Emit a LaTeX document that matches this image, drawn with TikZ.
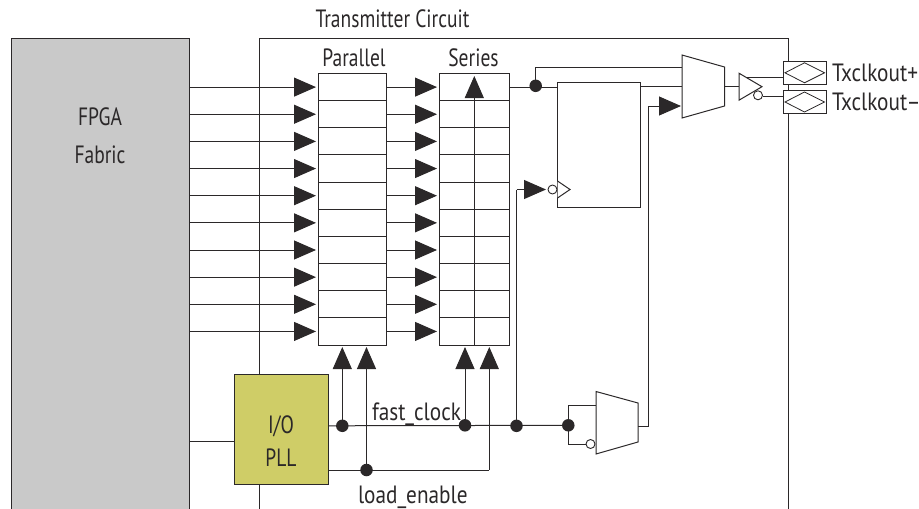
\documentclass[tikz,border=0pt]{standalone}
\usepackage{fontspec}
\setmainfont[FakeStretch=0.78]{PT Sans}
\newfontfamily\widefont[FakeStretch=0.85]{PT Sans}
\usetikzlibrary{arrows.meta,calc}
\definecolor{ink}{HTML}{2B2829}
\definecolor{fabric}{HTML}{C9C9C9}
\definecolor{pll}{HTML}{CFCD67}
\tikzset{
  wire/.style={draw=ink,line width=1pt,line join=miter},
  arrowwire/.style={wire,-{Triangle[length=22pt,width=19pt,color=ink]}},
  cell/.style={draw=ink,line width=1pt,fill=white,minimum height=27.15pt,inner sep=0pt,outer sep=0pt},
  dot/.style={circle,fill=ink,minimum size=12.5pt,inner sep=0pt,outer sep=0pt},
  bubble/.style={circle,draw=ink,line width=.9pt,fill=white,minimum size=9pt,inner sep=0pt,outer sep=0pt},
  lbl/.style={font=\fontsize{25}{28}\selectfont,text=ink,inner sep=0pt,outer sep=0pt,anchor=base},
  widelbl/.style={font=\widefont\fontsize{25}{28}\selectfont,text=ink,inner sep=0pt,outer sep=0pt,anchor=base west},
  shapeline/.style={draw=ink,line width=1pt,fill=white,line join=miter},
}
\begin{document}
\begin{tikzpicture}[x=1pt,y=-1pt]
\useasboundingbox (0,0) rectangle (919,509);
% fabric and circuit outlines
\fill[fabric] (11,38) rectangle (189,509);
\draw[wire] (11,509) -- (11,38) -- (189,38) -- (189,509);
\draw[wire] (259,509) -- (259,38) -- (788.5,38) -- (788.5,509);
\node[lbl] (title) at (392.5,27) {Transmitter Circuit};
\node[lbl] (fpga) at (100,125) {FPGA};
\node[lbl] (fab) at (100,163) {Fabric};
\node[lbl] (partxt) at (354,66) {Parallel};
\node[lbl] (sertxt) at (473.5,66) {Series};
% register rows
\foreach \i in {1,...,10}{
  \pgfmathsetmacro{\yy}{87.1+(\i-1)*27.15}
  \node[cell,minimum width=68pt] (p\i) at (352,\yy) {};
  \node[cell,minimum width=70pt] (s\i) at (474.3,\yy) {};
  \coordinate (fab\i) at (189,\yy);
  \coordinate (ptip\i) at (316,\yy);
  \coordinate (stip\i) at (437,\yy);
  \draw[arrowwire] (fab\i) -- (ptip\i);
  \draw[arrowwire] (p\i.east) -- (stip\i);
}
% series divider and shift arrow
\draw[wire] (s10.south) -- (s2.north);
\coordinate (shifttip) at (474.3,76);
\draw[arrowwire] (s2.north) -- (shifttip);
% flip-flop
\node[draw=ink,line width=1pt,fill=white,minimum width=83.5pt,minimum height=125.7pt,inner sep=0pt,outer sep=0pt] (ff) at (599.2,144.9) {};
\draw[shapeline] (557.5,181) -- (570,189.5) -- (557.5,198);
\coordinate (ffclk) at (557.5,189.5);
\node[bubble] (ffb) at (552.5,189.5) {};
% output mux
\draw[shapeline] (682,55) -- (724.5,67) -- (724.5,106) -- (682,118) -- cycle;
\coordinate (muxa) at (682,67);
\coordinate (muxb) at (682,86.7);
\coordinate (muxc) at (681,106);
\coordinate (muxo) at (724.5,86.7);
% serial output
\node[dot] (d1) at (535.7,85.8) {};
\draw[wire] (s1.east) -- (ff.west |- s1.east);
\draw[wire] (d1.center) -- (d1.center |- muxa) -- (muxa);
\draw[wire] (ff.east |- muxb) -- (muxb);
% output buffer
\coordinate (bufin) at (739,86.7);
\draw[wire] (muxo) -- (bufin);
\coordinate (bufp) at (747,77.7);
\coordinate (padp) at (783,77.7);
\coordinate (padn) at (783,96.8);
\draw[wire] (bufp) -- (padp);
\draw[shapeline] (739,73.2) -- (762,86.7) -- (739,100.2) -- cycle;
\node[bubble] (bufb) at (758,95.3) {};
\draw[wire] (bufb.east |- padn) -- (padn);
% output pads
\foreach \n/\c in {a/72.8,b/102}{
  \node[draw=ink,line width=1pt,fill=white,minimum width=43pt,minimum height=22.5pt,inner sep=0pt,outer sep=0pt] (pad\n) at (804.5,\c) {};
  \draw[draw=ink,line width=.8pt] (785,\c) -- (804.5,\c-10) -- (824.5,\c) -- (804.5,\c+10) -- cycle;
}
\node[widelbl] (tp) at (832,81) {Txclkout+};
\node[widelbl] (tn) at (832,110) {Txclkout–};
% PLL
\node[draw=ink,line width=1pt,fill=pll,minimum width=94pt,minimum height=110pt,inner sep=0pt,outer sep=0pt] (pllb) at (281.2,429.3) {};
\node[lbl] (io) at (281,433) {I/O};
\node[lbl] (plltx) at (281,466) {PLL};
\coordinate (fabpll) at (189,441);
\draw[wire] (fabpll) -- (pllb.west |- fabpll);
% clock bus
\coordinate (fcs) at (328.2,425.8);
\coordinate (les) at (328.2,470);
\node[dot] (c1) at (342.3,425.8) {};
\node[dot] (c2) at (465,425.3) {};
\node[dot] (c3) at (516.5,425.8) {};
\node[dot] (c4) at (568.3,425.3) {};
\node[dot] (l1) at (366.5,470) {};
\draw[wire] (fcs) -- (c4.center);
\coordinate (le2) at (489.3,470);
\draw[wire] (les) -- (le2);
\draw[arrowwire] (c1.center) -- (342.3,347);
\draw[arrowwire] (l1.center) -- (366.5,347);
\draw[arrowwire] (c2.center) -- (465,347);
\draw[arrowwire] (le2) -- (489.3,347);
\node[widelbl] (fc) at (372,420) {fast\_clock};
\node[widelbl] (le) at (358,503) {load\_enable};
% clock to flip-flop
\coordinate (ckb) at (516.5,189.5);
\draw[wire] (c3.center) -- (ckb);
\draw[arrowwire] (ckb) -- (546,189.5);
% clock mux
\draw[shapeline] (596,391.5) -- (638,403) -- (638,442) -- (596,454) -- cycle;
\coordinate (m2o) at (638,426);
\coordinate (m2t) at (648.3,426);
\draw[wire] (c4.center) -- (568.3,405) -- (596,405);
\node[bubble] (m2b) at (590.5,444) {};
\draw[wire] (c4.center) -- (568.3,444) -- (m2b.west);
\draw[wire] (m2o) -- (m2t) -- (648.3,106);
\draw[arrowwire] (648.3,106) -- (muxc);
\end{tikzpicture}
\end{document}
